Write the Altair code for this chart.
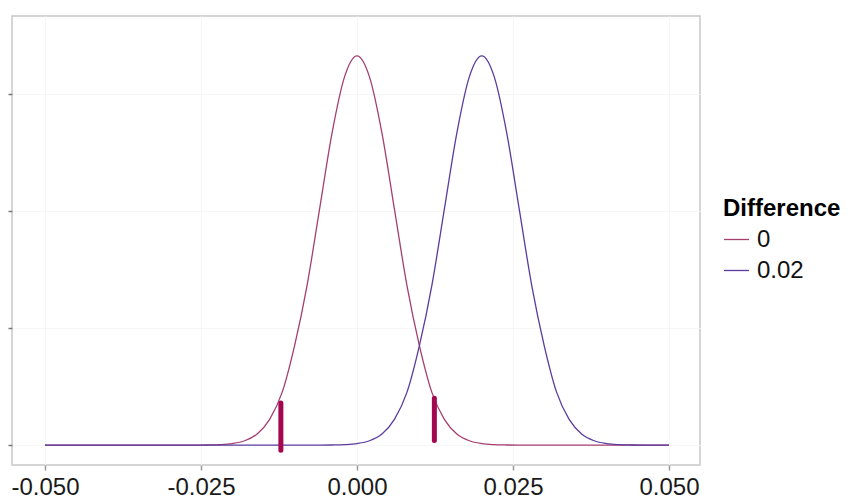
import pandas as pd
import altair as alt

# Data
x_grid = [round(-0.05 + 0.002 * i, 3) for i in range(51)]

density_0 = [0] * 13 + [
    0.02, 0.08, 0.26, 0.74, 1.9, 4.4, 9.0, 17.0, 27.3, 40.3, 53.3, 62.9,
    66.5,
    62.9, 53.3, 40.3, 27.3, 17.0, 9.0, 4.4, 1.9, 0.74, 0.26, 0.08, 0.02,
] + [0] * 13

density_002 = [0] * 23 + [
    0.02, 0.08, 0.26, 0.74, 1.9, 4.4, 9.0, 17.0, 27.3, 40.3, 53.3, 62.9,
    66.5,
    62.9, 53.3, 40.3, 27.3, 17.0, 9.0, 4.4, 1.9, 0.74, 0.26, 0.08, 0.02,
] + [0] * 3

groups = ['0', '0.02']
group_colors = ['#a53f6f', '#5b3b9e']

# hand-drawn marker strokes
mark_x = [-0.0122, 0.0124]
mark_top = [7.2, 8.0]
mark_bottom = [-0.9, 0.8]

x_ticks = [-0.05, -0.025, 0.0, 0.025, 0.05]
y_ticks = [0, 20, 40, 60]

df = pd.concat([
    pd.DataFrame({'x': x_grid, 'density': density_0, 'Difference': groups[0]}),
    pd.DataFrame({'x': x_grid, 'density': density_002, 'Difference': groups[1]}),
])
marks_df = pd.DataFrame({'x': mark_x, 'top': mark_top, 'bottom': mark_bottom})

FONT = 'Liberation Sans'

x_scale = alt.Scale(domain=[-0.05529, 0.05497], nice=False, zero=False)
y_scale = alt.Scale(domain=[-3.4, 73.3], nice=False, zero=False)

lines = alt.Chart(df).mark_line(strokeWidth=1.3, interpolate='monotone').encode(
    x=alt.X('x:Q', scale=x_scale, title=None,
            axis=alt.Axis(values=x_ticks,
                          labelExpr="replace(format(datum.value, '.3f'), '\u2212', '-')",
                          labelFontSize=24, labelFont=FONT, labelColor='#1a1a1a',
                          labelPadding=5, tickColor='#999999', tickSize=5,
                          tickWidth=1.5, domain=False,
                          gridColor='#f6f6f6', gridWidth=1)),
    y=alt.Y('density:Q', scale=y_scale, title=None,
            axis=alt.Axis(values=y_ticks, labels=False, tickColor='#777777',
                          tickSize=4, tickWidth=1.5, domain=False,
                          gridColor='#f6f6f6', gridWidth=1)),
    color=alt.Color('Difference:N',
                    scale=alt.Scale(domain=groups, range=group_colors),
                    legend=alt.Legend(orient='none', legendX=711, legendY=181,
                                      title='Difference', titleFont=FONT,
                                      titleFontSize=24, titleFontWeight='bold',
                                      titleColor='#000000', titlePadding=5,
                                      labelFont=FONT, labelFontSize=24,
                                      labelColor='#111111', labelOffset=7,
                                      symbolType='stroke', symbolSize=625,
                                      symbolStrokeWidth=1.3, rowPadding=5)),
    detail='Difference:N',
)

strokes = alt.Chart(marks_df).mark_rule(
    strokeWidth=5, strokeCap='round', color='#a3074f'
).encode(
    x=alt.X('x:Q', scale=x_scale),
    y=alt.Y('top:Q', scale=y_scale),
    y2='bottom:Q',
)

chart = (lines + strokes).properties(
    width=688,
    height=449,
    autosize=alt.AutoSizeParams(type='none'),
    padding={'left': 4, 'top': 8, 'right': 160, 'bottom': 38},
).configure_view(
    stroke='#c8c8c8', strokeWidth=1.5
)

chart.save("out.html", embed_options={"renderer": "svg", "actions": False})
